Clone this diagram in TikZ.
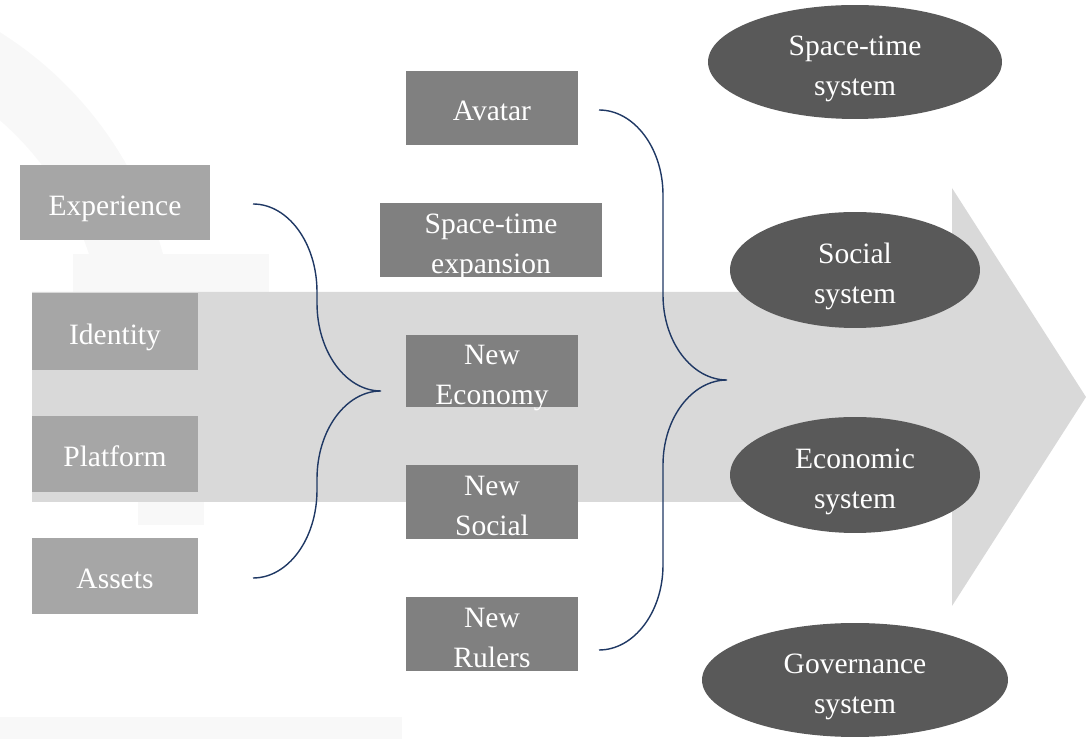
\documentclass[tikz,border=0pt]{standalone}
\usepackage{fontspec}
\setmainfont{Liberation Serif}
\usetikzlibrary{shapes.geometric}
\definecolor{boxlight}{HTML}{A6A6A6}
\definecolor{boxmid}{HTML}{808080}
\definecolor{ovaldark}{HTML}{595959}
\definecolor{arrowgray}{HTML}{D9D9D9}
\definecolor{bracenavy}{HTML}{1F3864}
\definecolor{wmark}{HTML}{F8F8F8}
\begin{document}
\begin{tikzpicture}[x=0.02cm,y=-0.02cm,
    txt/.style={text=white,font=\fontsize{16.8}{22.7}\selectfont,align=center,inner sep=0pt,
      text height=18.4pt,text depth=3.6pt},
    two/.style={text height=39.4pt,text depth=1.4pt},
    lbox/.style={txt,fill=boxlight,minimum width=3.32cm,minimum height=1.54cm},
    mbox/.style={txt,fill=boxmid,minimum width=3.44cm,minimum height=1.48cm},
    oval/.style={txt,two,ellipse,fill=ovaldark,minimum width=5cm,minimum height=2.32cm},
    brace/.style={draw=bracenavy,line width=0.8pt}]
  \useasboundingbox (0,0) rectangle (1086,739);
  % faint watermark
  \draw[wmark,line width=1.42cm] plot[domain=-62:0,samples=40] ({-200+340*cos(\x)},{350+340*sin(\x)});
  \fill[wmark] (73,254) rectangle (269,300);
  \fill[wmark] (138,495) rectangle (204,525);
  \fill[wmark] (0,717) rectangle (402,739);
  % big arrow
  \fill[arrowgray] (32,292) -- (952,292) -- (952,188) -- (1086,397) -- (952,606) -- (952,502) -- (32,502) -- cycle;
  % left column
  \node[lbox,minimum width=3.8cm,minimum height=1.5cm] (experience) at (115,202.5) {Experience};
  \node[lbox] (identity) at (115,331.5) {Identity};
  \node[lbox] (platform) at (115,454) {Platform};
  \node[lbox] (assets) at (115,576) {Assets};
  % middle column
  \node[mbox] (avatar) at (492,108) {Avatar};
  \node[mbox,two,minimum width=4.44cm] (expansion) at (491,240) {Space-time\\expansion};
  \node[mbox,two,minimum height=1.44cm] (economy) at (492,371) {New\\Economy};
  \node[mbox,two] (newsocial) at (492,502) {New\\Social};
  \node[mbox,two] (rulers) at (492,634) {New\\Rulers};
  % braces
  \coordinate (lbtop) at (253,204);
  \coordinate (lbtip) at (381,391);
  \coordinate (lbbot) at (253,578);
  \draw[brace] (lbtop) .. controls (288,204) and (317,243) .. (317,292) -- (317,303)
    .. controls (317,352) and (346,391) .. (lbtip)
    .. controls (346,391) and (317,430) .. (317,479) -- (317,490)
    .. controls (317,539) and (288,578) .. (lbbot);
  \coordinate (rbtop) at (599,110);
  \coordinate (rbtip) at (727,380);
  \coordinate (rbbot) at (599,650);
  \draw[brace] (rbtop) .. controls (634,110) and (663,148) .. (663,195) -- (663,295)
    .. controls (663,342) and (692,380) .. (rbtip)
    .. controls (692,380) and (663,418) .. (663,465) -- (663,565)
    .. controls (663,612) and (634,650) .. (rbbot);
  % right column
  \node[oval,minimum width=5.88cm,minimum height=2.28cm] (spacetime) at (855,62) {Space-time\\system};
  \node[oval] (social) at (855,270) {Social\\system};
  \node[oval] (economic) at (855,475) {Economic\\system};
  \node[oval,minimum width=6.12cm,minimum height=2.28cm] (governance) at (855,680) {Governance\\system};
\end{tikzpicture}
\end{document}
